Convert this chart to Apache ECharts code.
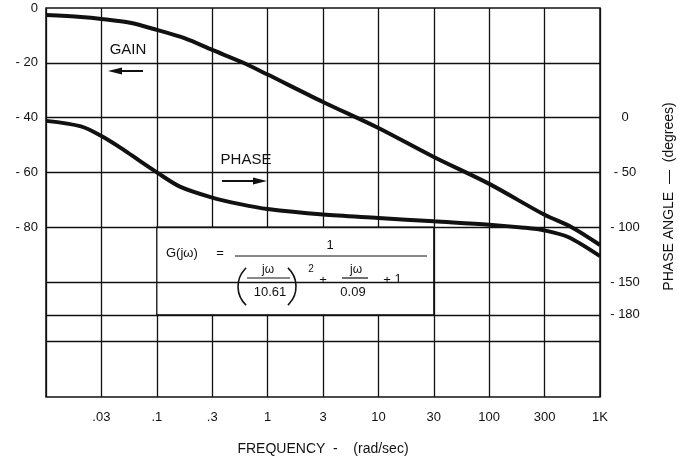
<!DOCTYPE html>
<html lang="en">
<head>
    <meta charset="UTF-8">
    <title>Bode plot</title>
    <style>
        html, body { margin: 0; padding: 0; background: #fff; }
        #chart { width: 679px; height: 460px; }
    </style>
    <script src="https://cdn.jsdelivr.net/npm/echarts@6/dist/echarts.min.js"></script>
</head>
<body>
    <div id="chart"></div>
    <script>
        // x axis: equally spaced half-decade ticks
        const tickFreqs = [0.01, 0.03, 0.1, 0.3, 1, 3, 10, 30, 100, 300, 1000];
        const tickLabels = ['', '.03', '.1', '.3', '1', '3', '10', '30', '100', '300', '1K'];
        const gainTicks = [0, -20, -40, -60, -80];
        const phaseTicks = [0, -50, -100, -150, -180];
        const gridGain = [-20, -40, -60, -80, -100, -112, -121.5]; // horizontal rules (dB)

        // gain curve (dB)
        const gainFreq = [0.01, 0.02, 0.03, 0.056, 0.1, 0.175, 0.3, 0.59, 1, 3, 10, 30, 100, 300, 540, 1000];
        const gainDb = [-2.6, -3.3, -4.0, -5.4, -8.0, -11.1, -15.3, -20, -24.3, -34.3, -43.8, -54.4, -64.2, -75.5, -80, -86.5];

        // phase curve (degrees)
        const phaseFreq = [0.01, 0.02, 0.03, 0.048, 0.069, 0.1, 0.158, 0.3, 0.55, 1, 3, 10, 30, 100, 200, 300, 500, 1000];
        const phaseDeg = [-3, -8, -16.8, -29, -39.6, -50, -63, -73, -79, -83.5, -88.5, -91.6, -94.7, -97.7, -100.5, -103, -109, -126.5];

        // frequency -> position on the evenly spaced axis
        function pos(f) {
            for (let i = 0; i < tickFreqs.length - 1; i++) {
                if (f <= tickFreqs[i + 1]) {
                    return i + Math.log(f / tickFreqs[i]) / Math.log(tickFreqs[i + 1] / tickFreqs[i]);
                }
            }
            return tickFreqs.length - 1;
        }

        const FONT = '"Liberation Sans", Arial, sans-serif';
        const INK = '#111';

        function t(text, x, y, size, align) {
            return {
                type: 'text', x: x, y: y, z: 10,
                style: {
                    text: text, fill: INK, font: size + 'px ' + FONT,
                    align: align || 'center', verticalAlign: 'middle',
                    textAlign: align || 'center', textVerticalAlign: 'middle'
                }
            };
        }
        function rule(x1, x2, y, w) {
            return { type: 'line', z: 10, shape: { x1: x1, y1: y, x2: x2, y2: y }, style: { stroke: INK, lineWidth: w || 1 } };
        }
        function arrow(x1, x2, y, tipLeft) {
            const tip = tipLeft ? x1 : x2;
            const base = tipLeft ? x1 + 14 : x2 - 14;
            return [
                { type: 'line', z: 10, shape: { x1: tipLeft ? base : x1, y1: y, x2: tipLeft ? x2 : base, y2: y }, style: { stroke: INK, lineWidth: 2 } },
                { type: 'polygon', z: 10, shape: { points: [[tip, y], [base, y - 3.5], [base, y + 3.5]] }, style: { fill: INK } }
            ];
        }
        function paren(cx, cy, left) {
            const a = 0.82;
            return {
                type: 'arc', z: 10,
                shape: { cx: cx, cy: cy, r: 25.4, startAngle: left ? Math.PI - a : -a, endAngle: left ? Math.PI + a : a },
                style: { stroke: INK, lineWidth: 1.6, fill: null }
            };
        }

        const chart = echarts.init(document.getElementById('chart'));

        const option = {
            animation: false,
            backgroundColor: '#fff',
            grid: {
                left: 46, right: 79, top: 8, bottom: 63, outerBoundsMode: 'none', containLabel: false,
                show: true, borderColor: INK, borderWidth: 1.5
            },
            xAxis: {
                type: 'value', min: 0, max: tickFreqs.length - 1, interval: 1,
                axisLine: { show: false }, axisTick: { show: false },
                splitLine: { show: true, lineStyle: { color: INK, width: 1.3 } },
                axisLabel: { color: INK, fontFamily: FONT, fontSize: 13, margin: 14, formatter: v => tickLabels[v] || '' },
                name: 'FREQUENCY  -    (rad/sec)', nameLocation: 'middle', nameGap: 45,
                nameTextStyle: { color: INK, fontFamily: FONT, fontSize: 14 }
            },
            yAxis: [{
                type: 'value', min: -142, max: 0,
                axisLine: { show: false }, axisTick: { show: false }, splitLine: { show: false },
                axisLabel: {
                    customValues: gainTicks, color: INK, fontFamily: FONT, fontSize: 13, margin: 8,
                    formatter: v => v < 0 ? '- ' + Math.abs(v) : String(v)
                }
            }, {
                type: 'value', min: -255, max: 100, position: 'right',
                axisLine: { show: false }, axisTick: { show: false }, splitLine: { show: false },
                axisLabel: {
                    customValues: phaseTicks, color: INK, fontFamily: FONT, fontSize: 13, margin: 25, align: 'center',
                    formatter: v => v < 0 ? '- ' + Math.abs(v) : String(v)
                },
                name: 'PHASE ANGLE  —  (degrees)', nameLocation: 'middle', nameGap: 62, nameRotate: 90,
                nameTextStyle: { color: INK, fontFamily: FONT, fontSize: 14, padding: [0, 0, 0, 12] }
            }],
            series: [{
                // horizontal rules
                type: 'line', yAxisIndex: 0, data: [], z: 1, silent: true,
                markLine: {
                    silent: true, symbol: ['none', 'none'], label: { show: false },
                    lineStyle: { type: 'solid', color: INK, width: 1.3 },
                    emphasis: { disabled: true },
                    data: gridGain.map(v => ({ yAxis: v }))
                }
            }, {
                // formula box
                type: 'line', yAxisIndex: 0, data: [], z: 2, silent: true,
                markArea: {
                    silent: true, label: { show: false },
                    itemStyle: { color: '#fff', opacity: 1, borderColor: INK, borderWidth: 1.3 },
                    emphasis: { disabled: true },
                    data: [[{ coord: [pos(0.1), -80] }, { coord: [pos(30), -112] }]]
                }
            }, {
                name: 'GAIN', type: 'line', yAxisIndex: 0, z: 3,
                smooth: 0.3, showSymbol: false,
                lineStyle: { color: INK, width: 4 },
                data: gainFreq.map((f, i) => [pos(f), gainDb[i]])
            }, {
                name: 'PHASE', type: 'line', yAxisIndex: 1, z: 3,
                smooth: 0.3, showSymbol: false,
                lineStyle: { color: INK, width: 4 },
                data: phaseFreq.map((f, i) => [pos(f), phaseDeg[i]])
            }],
            graphic: [
                t('GAIN', 128, 50, 15),
                ...arrow(108, 143, 71, true),
                t('PHASE', 246, 160, 15),
                ...arrow(222, 267, 181, false),
                // G(jw) = 1 / ((jw/10.61)^2 + jw/0.09 + 1)
                t('G(jω)', 166, 253, 13, 'left'),
                t('=', 220, 253, 13),
                t('1', 330, 245, 13),
                rule(235, 427, 256, 1),
                paren(263.4, 286.5, true),
                t('jω', 268, 270, 12),
                rule(247, 290, 278, 1.2),
                t('10.61', 270, 292, 13),
                paren(270.6, 286.5, false),
                t('2', 311, 269, 10),
                t('+', 323, 280, 13),
                t('jω', 356, 270, 12),
                rule(342, 368, 278, 1.2),
                t('0.09', 353, 292, 13),
                t('+', 387, 280, 13),
                t('1', 398, 279, 13)
            ]
        };

        chart.setOption(option);
    </script>
</body>
</html>
